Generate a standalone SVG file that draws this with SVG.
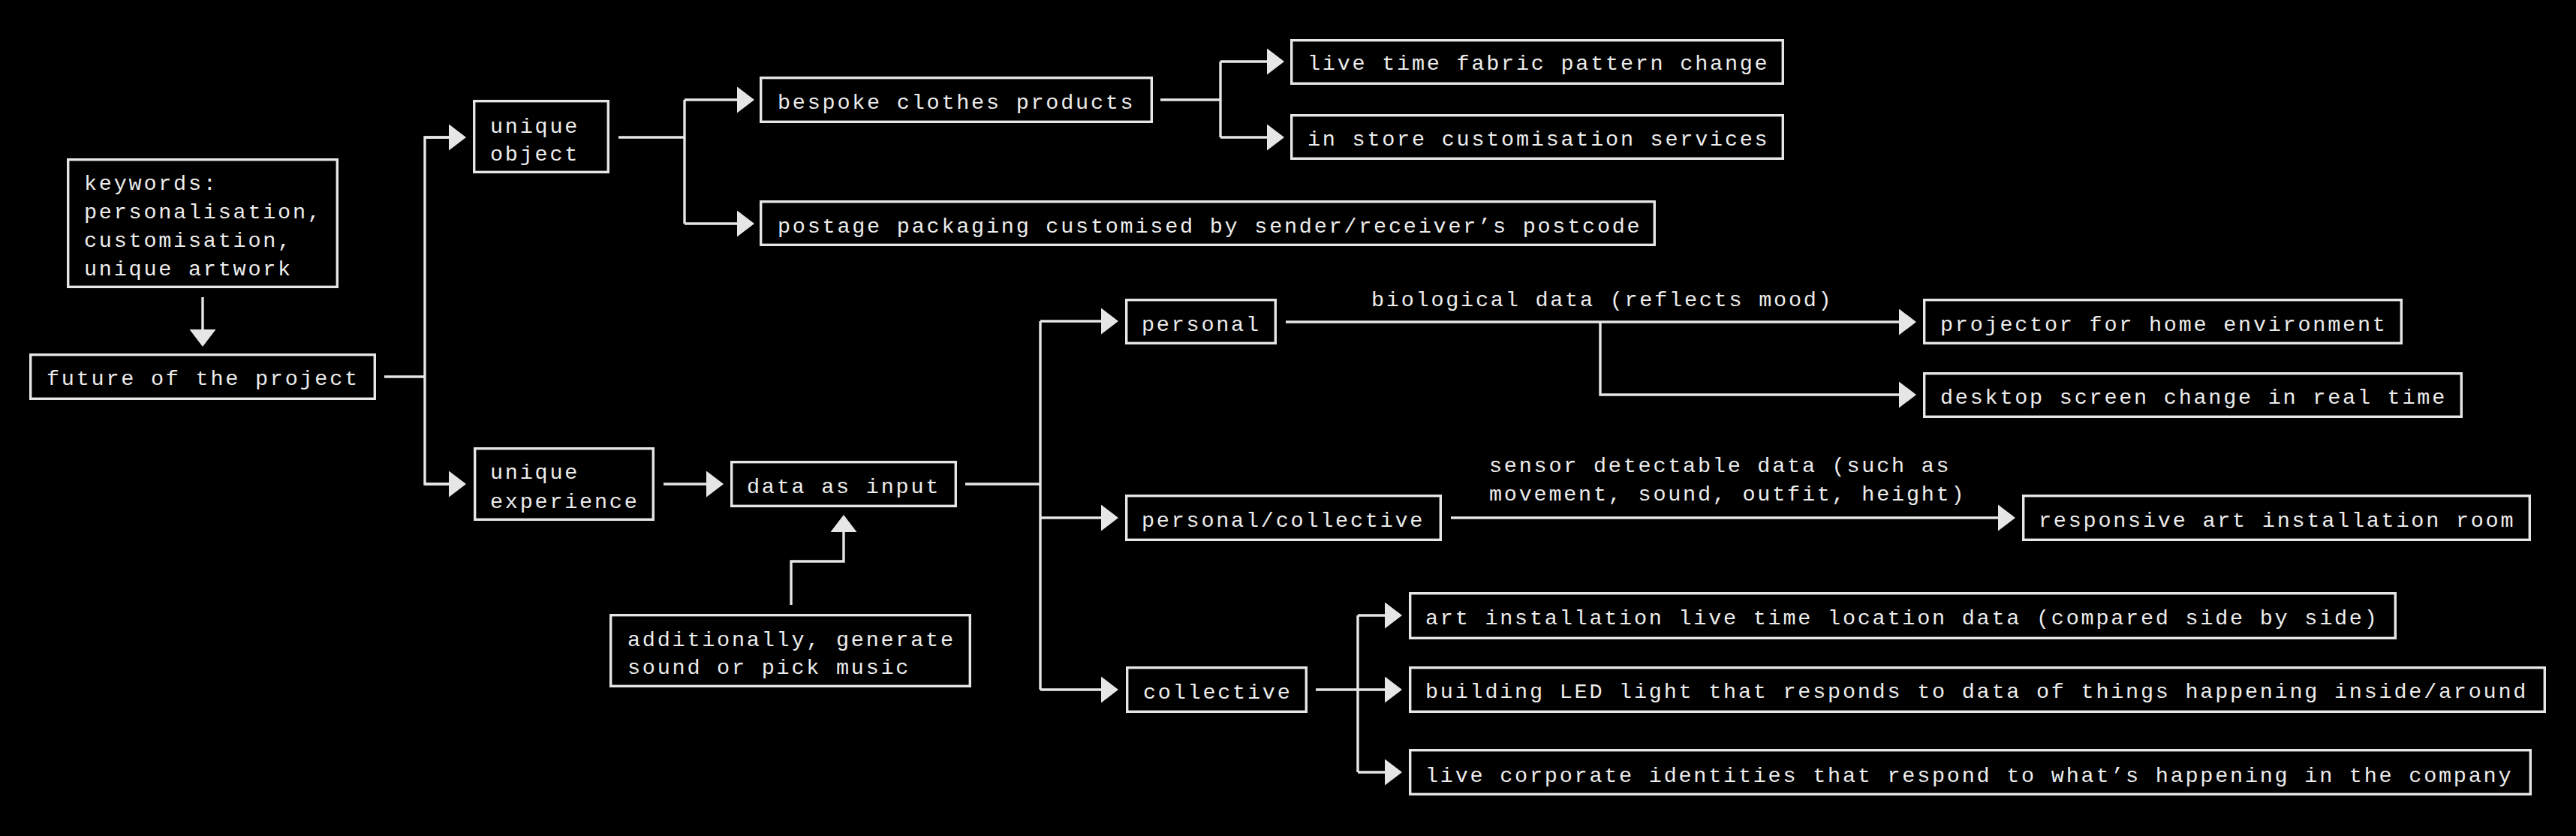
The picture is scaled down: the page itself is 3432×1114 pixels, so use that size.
<svg xmlns="http://www.w3.org/2000/svg" width="3432" height="1114" viewBox="0 0 3432 1114">
<style>
.box{fill:none;stroke:#e6e6e6;stroke-width:3.4}
.c{fill:none;stroke:#e6e6e6;stroke-width:3.4}
.t{font-family:"Liberation Mono","DejaVu Sans Mono",monospace;font-size:28.5px;letter-spacing:2.75px;fill:#ececec}
</style>
<defs>
<marker id="arr" viewBox="0 0 23 35" markerWidth="23" markerHeight="35" refX="11" refY="17.5" orient="auto" markerUnits="userSpaceOnUse">
<path d="M0,0 L23,17.5 L0,35 Z" fill="#e6e6e6"/>
</marker>
</defs>
<rect width="3432" height="1114" fill="#000"/>
<g id="connectors">
<path class="c" d="M270,396 V450" marker-end="url(#arr)"/>
<path class="c" d="M512,502 H566"/>
<path class="c" d="M609,183 H566 V645 H609" />
<path class="c" d="M566,183 H609" marker-end="url(#arr)"/>
<path class="c" d="M566,645 H609" marker-end="url(#arr)"/>
<path class="c" d="M824,183 H912"/>
<path class="c" d="M912,133 V298"/>
<path class="c" d="M912,133 H993" marker-end="url(#arr)"/>
<path class="c" d="M912,298 H993" marker-end="url(#arr)"/>
<path class="c" d="M1546,133 H1626"/>
<path class="c" d="M1626,82 V183"/>
<path class="c" d="M1626,82 H1699" marker-end="url(#arr)"/>
<path class="c" d="M1626,183 H1699" marker-end="url(#arr)"/>
<path class="c" d="M884,645 H952" marker-end="url(#arr)"/>
<path class="c" d="M1286,645 H1386"/>
<path class="c" d="M1386,428 V919"/>
<path class="c" d="M1386,428 H1478" marker-end="url(#arr)"/>
<path class="c" d="M1386,690 H1478" marker-end="url(#arr)"/>
<path class="c" d="M1386,919 H1478" marker-end="url(#arr)"/>
<path class="c" d="M1054,806 V748 H1124 V698" marker-end="url(#arr)"/>
<path class="c" d="M1713,429 H2541" marker-end="url(#arr)"/>
<path class="c" d="M2132,429 V526 H2541" marker-end="url(#arr)"/>
<path class="c" d="M1933,690 H2673" marker-end="url(#arr)"/>
<path class="c" d="M1753,919 H1809"/>
<path class="c" d="M1809,820 V1029"/>
<path class="c" d="M1809,820 H1856" marker-end="url(#arr)"/>
<path class="c" d="M1809,919 H1856" marker-end="url(#arr)"/>
<path class="c" d="M1809,1029 H1856" marker-end="url(#arr)"/>
<text class="t" x="1827" y="408">biological data (reflects mood)</text>
<text class="t" x="1984" y="629">sensor detectable data (such as</text>
<text class="t" x="1984" y="667">movement, sound, outfit, height)</text>
</g>
<g id="keywords">
<rect class="box" x="90.7" y="212.7" width="358.6" height="169.6"/>
<text class="t" x="112" y="253">keywords:</text>
<text class="t" x="112" y="291">personalisation,</text>
<text class="t" x="112" y="329">customisation,</text>
<text class="t" x="112" y="367">unique artwork</text>
</g>
<g id="future">
<rect class="box" x="40.7" y="472.7" width="458.6" height="58.6"/>
<text class="t" x="62" y="513">future of the project</text>
</g>
<g id="unique-object">
<rect class="box" x="631.7" y="134.7" width="178.6" height="94.6"/>
<text class="t" x="653" y="177">unique</text>
<text class="t" x="653" y="214">object</text>
</g>
<g id="unique-experience">
<rect class="box" x="632.7" y="597.7" width="237.6" height="94.6"/>
<text class="t" x="653" y="638">unique</text>
<text class="t" x="653" y="677">experience</text>
</g>
<g id="bespoke">
<rect class="box" x="1013.7" y="103.7" width="520.6" height="58.6"/>
<text class="t" x="1036" y="145">bespoke clothes products</text>
</g>
<g id="postage">
<rect class="box" x="1013.7" y="268.7" width="1190.6" height="57.6"/>
<text class="t" x="1036" y="310">postage packaging customised by sender/receiver’s postcode</text>
</g>
<g id="live-fabric">
<rect class="box" x="1720.7" y="53.7" width="654.6" height="57.6"/>
<text class="t" x="1742" y="93">live time fabric pattern change</text>
</g>
<g id="in-store">
<rect class="box" x="1720.7" y="153.7" width="654.6" height="57.6"/>
<text class="t" x="1742" y="194">in store customisation services</text>
</g>
<g id="data-input">
<rect class="box" x="974.7" y="615.7" width="298.6" height="58.6"/>
<text class="t" x="995" y="657">data as input</text>
</g>
<g id="additionally">
<rect class="box" x="813.7" y="819.7" width="478.6" height="94.6"/>
<text class="t" x="836" y="861">additionally, generate</text>
<text class="t" x="836" y="898">sound or pick music</text>
</g>
<g id="personal">
<rect class="box" x="1500.7" y="399.7" width="198.6" height="57.6"/>
<text class="t" x="1521" y="441">personal</text>
</g>
<g id="personal-collective">
<rect class="box" x="1500.7" y="660.7" width="418.6" height="58.6"/>
<text class="t" x="1521" y="702">personal/collective</text>
</g>
<g id="collective">
<rect class="box" x="1501.7" y="889.7" width="238.6" height="58.6"/>
<text class="t" x="1523" y="931">collective</text>
</g>
<g id="projector">
<rect class="box" x="2563.7" y="399.7" width="635.6" height="57.6"/>
<text class="t" x="2585" y="441">projector for home environment</text>
</g>
<g id="desktop">
<rect class="box" x="2563.7" y="497.7" width="715.6" height="57.6"/>
<text class="t" x="2585" y="538">desktop screen change in real time</text>
</g>
<g id="responsive">
<rect class="box" x="2695.7" y="660.7" width="674.6" height="58.6"/>
<text class="t" x="2716" y="702">responsive art installation room</text>
</g>
<g id="art-installation">
<rect class="box" x="1878.7" y="790.7" width="1312.6" height="59.6"/>
<text class="t" x="1899" y="832">art installation live time location data (compared side by side)</text>
</g>
<g id="building-led">
<rect class="box" x="1878.7" y="889.7" width="1511.6" height="58.6"/>
<text class="t" x="1899" y="930">building LED light that responds to data of things happening inside/around</text>
</g>
<g id="corporate">
<rect class="box" x="1878.7" y="999.7" width="1492.6" height="58.6"/>
<text class="t" x="1899" y="1042">live corporate identities that respond to what’s happening in the company</text>
</g>
</svg>
